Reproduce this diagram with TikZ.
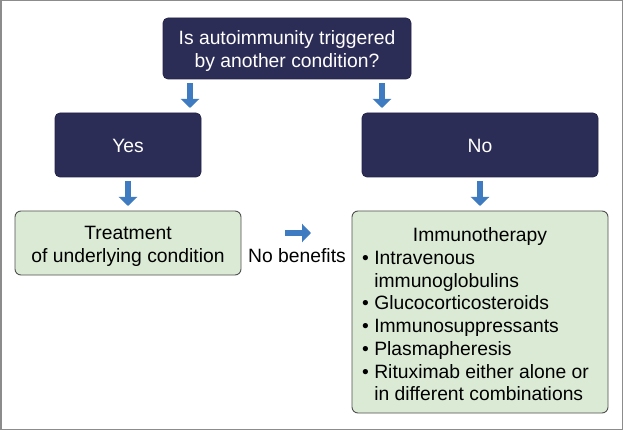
\documentclass[tikz,border=0pt]{standalone}
\usepackage{fontspec}
\setmainfont{Liberation Sans}
\usetikzlibrary{arrows.meta}
\definecolor{navy}{HTML}{2C2D57}
\definecolor{leaf}{HTML}{DAEAD4}
\definecolor{edgegray}{HTML}{505050}
\definecolor{arrowblue}{HTML}{3F7BC0}
\tikzset{
  darkbox/.style={draw=navy!80!black, fill=navy, rounded corners=5pt, line width=0.8pt, text=white, inner sep=0pt},
  greenbox/.style={draw=edgegray, fill=leaf, rounded corners=6pt, line width=0.9pt, inner sep=0pt},
  txt/.style={font=\fontsize{19.3}{23}\selectfont, inner sep=0pt},
  blockarrow/.style={draw=arrowblue, line width=6.5pt, -{Triangle[length=9pt,width=18pt]}, shorten >=0pt},
}
\begin{document}
\begin{tikzpicture}[x=1pt,y=-1pt]
\useasboundingbox (0,0) rectangle (623,430);
\draw[gray!90, line width=1.5pt] (0.75,0.75) rectangle (622.25,429.25);
% boxes
\node[darkbox, minimum width=248pt, minimum height=61pt] (top) at (287,48.5) {};
\node[txt, text=white, align=center] (toptxt) at (287,51) {Is autoimmunity triggered\\by another condition?};
\node[darkbox, minimum width=146pt, minimum height=64pt] (yes) at (128,145) {};
\node[txt, text=white] (yestxt) at (128,146) {Yes};
\node[darkbox, minimum width=236pt, minimum height=64pt] (no) at (480,145) {};
\node[txt, text=white] (notxt) at (480,146) {No};
\node[greenbox, minimum width=226pt, minimum height=64pt] (treat) at (128,243) {};
\node[txt, align=center] (treattxt) at (128,246) {Treatment\\of underlying condition};
\node[greenbox, minimum width=256pt, minimum height=202pt] (immu) at (480,312) {};
\node[txt, anchor=base] (immutitle) at (480,241.5) {Immunotherapy};
\node[txt, font=\fontsize{19.3}{22.7}\selectfont, anchor=base west, align=left] (immulist) at (362,400.7)
 {• Intravenous\\\phantom{• }immunoglobulins\\• Glucocorticosteroids\\• Immunosuppressants\\• Plasmapheresis\\• Rituximab either alone or\\\phantom{• }in different combinations};
\node[txt] (nob) at (297,256) {No benefits};
% arrows
\coordinate (a1s) at (190,83); \coordinate (a1e) at (190,108);
\coordinate (a2s) at (382,83); \coordinate (a2e) at (382,108);
\coordinate (a3s) at (128,181); \coordinate (a3e) at (128,206);
\coordinate (a4s) at (480,181); \coordinate (a4e) at (480,206);
\coordinate (a5s) at (285,233); \coordinate (a5e) at (311,233);
\draw[blockarrow] (a1s) -- (a1e);
\draw[blockarrow] (a2s) -- (a2e);
\draw[blockarrow] (a3s) -- (a3e);
\draw[blockarrow] (a4s) -- (a4e);
\draw[blockarrow] (a5s) -- (a5e);
\end{tikzpicture}
\end{document}
